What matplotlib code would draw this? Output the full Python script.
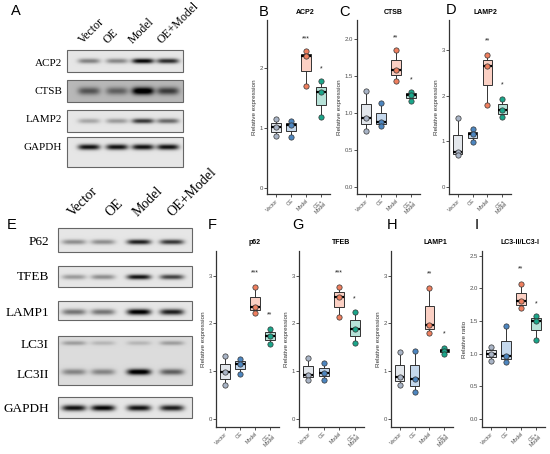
import numpy as np
import matplotlib.pyplot as plt
from matplotlib.patches import Rectangle

# группы и значения (по три повтора)
groups = ["Vector", "OE", "Model", "OE+\nModel"]
lanes_txt = ["Vector", "OE", "Model", "OE+Model"]

acp2 = [[1.15, 1.01, 0.86], [1.12, 1.05, 0.84], [2.27, 2.19, 1.69], [1.77, 1.59, 1.18]]
ctsb = [[1.30, 0.94, 0.76], [1.13, 0.88, 0.83], [1.86, 1.59, 1.43], [1.29, 1.25, 1.16]]
lamp2 = [[1.51, 0.77, 0.70], [1.27, 1.16, 0.99], [2.90, 2.66, 1.80], [1.94, 1.68, 1.53]]
p62 = [[1.31, 0.98, 0.71], [1.25, 1.16, 0.94], [2.77, 2.35, 2.21], [1.89, 1.74, 1.58]]
tfeb = [[1.27, 0.93, 0.81], [1.17, 0.97, 0.81], [2.77, 2.55, 2.13], [2.25, 1.88, 1.60]]
lamp1 = [[1.41, 0.87, 0.72], [1.43, 0.84, 0.56], [2.75, 1.97, 1.80], [1.49, 1.43, 1.36]]
lc3 = [[1.11, 1.00, 0.89], [1.43, 0.97, 0.87], [2.06, 1.80, 1.70], [1.58, 1.50, 1.21]]

# значимость: (метка, высота) для Model и OE+Model
stars_acp2 = [("***", 2.47), ("*", 1.98)]
stars_ctsb = [("**", 2.02), ("*", 1.45)]
stars_lamp2 = [("**", 3.20), ("*", 2.25)]
stars_p62 = [("***", 3.06), ("**", 2.18)]
stars_tfeb = [("***", 3.07), ("*", 2.52)]
stars_lamp1 = [("**", 3.04), ("*", 1.78)]
stars_lc3 = [("**", 2.29), ("*", 1.76)]

# интенсивность полос на блотах (0..1)
wb_a = {
    "ACP2": [0.40, 0.38, 0.90, 0.75],
    "CTSB": [0.40, 0.35, 0.85, 0.50],
    "LAMP2": [0.25, 0.30, 0.70, 0.50],
    "GAPDH": [0.85, 0.85, 0.85, 0.85],
}
wb_e = {
    "P62": [0.35, 0.35, 0.80, 0.70],
    "TFEB": [0.30, 0.35, 0.85, 0.65],
    "LAMP1": [0.45, 0.45, 0.95, 0.80],
    "LC3I": [0.25, 0.15, 0.15, 0.25],
    "LC3II": [0.35, 0.35, 0.95, 0.50],
    "GAPDH": [0.85, 0.90, 0.85, 0.80],
}

pt_colors = ["#a9b4c6", "#4d86c0", "#ef7f5f", "#1aa68a"]
box_colors = ["#e3e7ec", "#c5d8ec", "#fbd0c4", "#b7e2d8"]

W, H = 550, 454
fig = plt.figure(figsize=(5.5, 4.54), dpi=100)
fig.patch.set_facecolor("white")

bg = fig.add_axes([0, 0, 1, 1])
bg.set_xlim(0, W)
bg.set_ylim(H, 0)
bg.axis("off")

SERIF = ["Liberation Serif", "DejaVu Serif"]
SANS = ["Liberation Sans", "DejaVu Sans"]


def blot(x0, x1, y0, y1, lanes, rows, bkg=0.9, hw=11):
    nx, ny = int((x1 - x0) * 4), int((y1 - y0) * 4)
    X, Y = np.meshgrid(np.linspace(x0, x1, nx), np.linspace(y0, y1, ny))
    img = np.full(X.shape, bkg)
    for yc, ints, hh in rows:
        for xc, a in zip(lanes, ints):
            img -= a * np.exp(-np.abs((X - xc) / hw) ** 4) * np.exp(-((Y - yc) / hh) ** 2)
    img = np.clip(img, 0, 1)
    bg.imshow(img, cmap="gray", vmin=0, vmax=1, extent=(x0, x1, y1, y0),
              aspect="auto", interpolation="bilinear", zorder=1)
    bg.add_patch(Rectangle((x0, y0), x1 - x0, y1 - y0, fill=False,
                           ec="#666666", lw=0.8, zorder=2))


# ---- панель A
lanes_a = [89, 117, 143, 168]
blot(67, 183, 50, 72, lanes_a, [(61, wb_a["ACP2"], 2.5)])
blot(67, 183, 80, 102, lanes_a, [(91, wb_a["CTSB"], 3.8)], bkg=0.72)
blot(67, 183, 110, 132, lanes_a, [(121, wb_a["LAMP2"], 2.5)])
blot(67, 183, 137, 167, lanes_a, [(147, wb_a["GAPDH"], 2.8)])
for name, y in zip(["ACP2", "CTSB", "LAMP2", "GAPDH"], [63, 91, 120, 147]):
    bg.text(62, y, name, ha="right", va="center", fontsize=8, family=SERIF)
for x, t in zip([83, 108, 133, 161], lanes_txt):
    bg.text(x, 44, t, rotation=45, rotation_mode="anchor", ha="left",
            va="baseline", fontsize=8.5, family=SERIF)

# ---- панель E
lanes_e = [74, 103, 139, 172]
blot(58, 192, 228, 252, lanes_e, [(242, wb_e["P62"], 2.5)], hw=12)
blot(58, 192, 266, 287, lanes_e, [(277, wb_e["TFEB"], 2.5)], hw=12)
blot(58, 192, 301, 320, lanes_e, [(312, wb_e["LAMP1"], 3.0)], hw=12)
blot(58, 192, 336, 385, lanes_e, [(343, wb_e["LC3I"], 2.2), (372, wb_e["LC3II"], 3.0)],
     bkg=0.86, hw=12)
blot(58, 192, 397, 418, lanes_e, [(408, wb_e["GAPDH"], 3.0)], hw=12)
for name, y in zip(["P62", "TFEB", "LAMP1", "LC3I", "LC3II", "GAPDH"],
                   [242, 277, 313, 345, 375, 409]):
    bg.text(49, y, name, ha="right", va="center", fontsize=9.5, family=SERIF)
for x, t in zip([73, 110, 138, 172], lanes_txt):
    bg.text(x, 217, t, rotation=45, rotation_mode="anchor", ha="left",
            va="baseline", fontsize=10, family=SERIF)


# ---- графики
def box_panel(l, t, r, b, data, ylim, yticks, yfmt, title, title_x, stars,
              ylabel="Relative expression"):
    ax = fig.add_axes([l / W, 1 - b / H, (r - l) / W, (b - t) / H])
    pos = np.arange(1, 5)
    bp = ax.boxplot(data, positions=pos, widths=0.62, whis=(0, 100),
                    patch_artist=True, showfliers=False, showcaps=False,
                    medianprops=dict(color="black", lw=1.6),
                    boxprops=dict(ec="#333333", lw=0.7),
                    whiskerprops=dict(color="#333333", lw=0.7))
    for patch, c in zip(bp["boxes"], box_colors):
        patch.set_facecolor(c)
    for i, vals in enumerate(data):
        ax.plot([pos[i]] * len(vals), vals, "o", ms=3.8, mfc=pt_colors[i],
                mec="#333333", mew=0.5, zorder=5)
    for (lab, y), x in zip(stars, [3, 4]):
        ax.text(x, y, lab, ha="center", va="center", fontsize=5,
                color="#222222", family=SANS)
    ax.set_xlim(0.4, 4.6)
    ax.set_ylim(*ylim)
    ax.set_yticks(yticks)
    ax.set_yticklabels([yfmt.format(v) for v in yticks], fontsize=4.3,
                       color="#4d4d4d", family=SANS)
    ax.set_xticks(pos)
    ax.set_xticklabels(groups, rotation=45, ha="right", rotation_mode="anchor",
                       fontsize=3.8, color="#4d4d4d", family=SANS,
                       linespacing=0.9)
    ax.tick_params(length=2, width=0.6, color="#333333", pad=1)
    ax.set_ylabel(ylabel, fontsize=4.6, color="#333333", family=SANS, labelpad=2)
    for s in ["top", "right"]:
        ax.spines[s].set_visible(False)
    for s in ["left", "bottom"]:
        ax.spines[s].set_color("#333333")
        ax.spines[s].set_linewidth(0.9)
    ax.patch.set_alpha(0)
    bg.text(title_x, t - 8, title, ha="center", va="center", fontsize=5,
            fontweight="bold", family=SANS)
    return ax


box_panel(267, 20, 330, 194, acp2, (-0.1, 2.79), [0, 1, 2], "{:.0f}",
          "ACP2", 305, stars_acp2)
box_panel(357, 20, 420, 194, ctsb, (-0.095, 2.26), [0, 0.5, 1, 1.5, 2], "{:.1f}",
          "CTSB", 393, stars_ctsb)
box_panel(449, 20, 511, 194, lamp2, (-0.15, 3.66), [0, 1, 2, 3], "{:.0f}",
          "LAMP2", 485, stars_lamp2)
box_panel(216, 251, 279, 427, p62, (-0.17, 3.52), [0, 1, 2, 3], "{:.0f}",
          "p62", 255, stars_p62)
box_panel(299, 251, 364, 427, tfeb, (-0.17, 3.52), [0, 1, 2, 3], "{:.0f}",
          "TFEB", 341, stars_tfeb)
box_panel(391, 251, 453, 427, lamp1, (-0.17, 3.52), [0, 1, 2, 3], "{:.0f}",
          "LAMP1", 435, stars_lamp1)
box_panel(482, 251, 545, 427, lc3, (-0.12, 2.57), [0, 0.5, 1, 1.5, 2, 2.5], "{:.1f}",
          "LC3-II/LC3-I", 520, stars_lc3, ylabel="Relative ratio")

# буквы панелей
for lab, x, y in [("A", 16, 11), ("B", 264, 12), ("C", 345, 12), ("D", 451, 10),
                  ("E", 12, 225), ("F", 212, 225), ("G", 298, 225),
                  ("H", 392, 225), ("I", 477, 225)]:
    bg.text(x, y, lab, ha="center", va="center", fontsize=10.5, family=SANS)

fig.savefig("out.png", dpi=100)
